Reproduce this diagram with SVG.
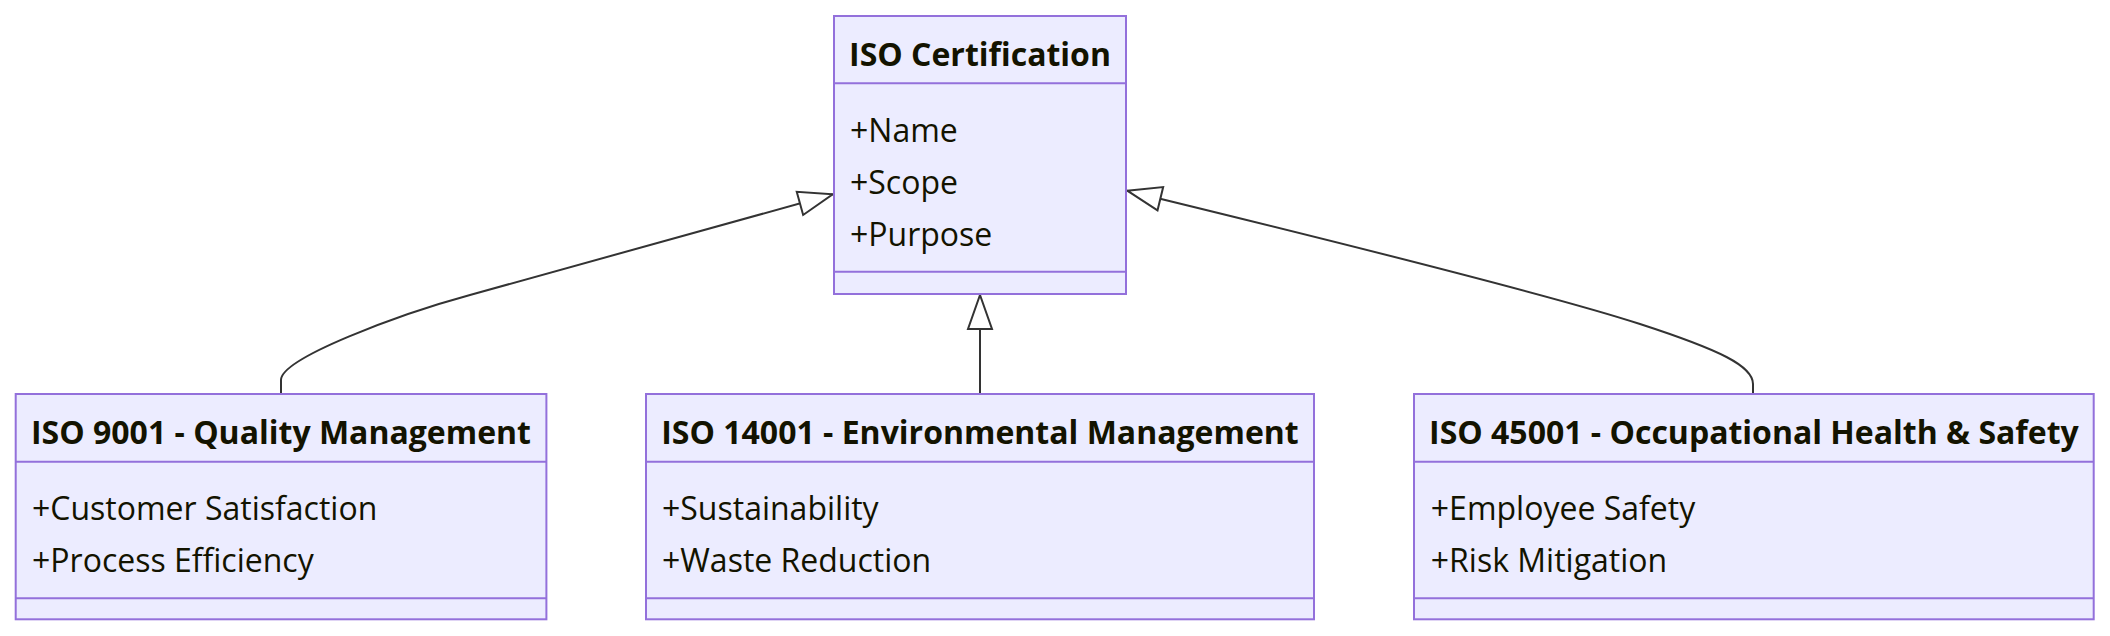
<svg xmlns="http://www.w3.org/2000/svg" width="2110" height="636" viewBox="0 0 2110 636">
<style>
.box{fill:#ECECFF;stroke:#9370DB;stroke-width:2}
.div{stroke:#9370DB;stroke-width:2}
.title{font-family:"Open Sans","Noto Sans",sans-serif;font-weight:bold;font-size:32px;fill:#131300}
.attr{font-family:"Open Sans","Noto Sans",sans-serif;font-size:32px;fill:#131300}
.edge{fill:none;stroke:#333333;stroke-width:2}
</style>
<defs>
<marker id="ext" markerUnits="userSpaceOnUse" viewBox="0 0 20 14" markerWidth="40" markerHeight="28" refX="18" refY="7" orient="auto">
<path d="M1,1 V13 L18,7 Z" fill="#ffffff" stroke="#333333" stroke-width="1"/>
</marker>
</defs>
<rect width="2110" height="636" fill="#ffffff"/>
<g id="connectors">
<path class="edge" d="M281,394 L281,380 C281,358 400,314 470,295 L832.7,194.3" marker-end="url(#ext)"/>
<path class="edge" d="M980,394 L980,295" marker-end="url(#ext)"/>
<path class="edge" d="M1753,394 L1753,384 C1753,366 1720,350 1640,324 C1540,291.5 1260,223 1127.3,190.7" marker-end="url(#ext)"/>
</g>
<g id="iso-certification">
<rect class="box" x="834" y="16" width="292" height="278"/>
<line class="div" x1="834" y1="83.3" x2="1126" y2="83.3"/>
<line class="div" x1="834" y1="271.7" x2="1126" y2="271.7"/>
<text class="title" x="980" y="65.5" text-anchor="middle">ISO Certification</text>
<text class="attr" x="850" y="141.5">+Name</text>
<text class="attr" x="850" y="193.5">+Scope</text>
<text class="attr" x="850" y="245.5">+Purpose</text>
</g>
<g id="iso-9001">
<rect class="box" x="15.7" y="394" width="530.7" height="225.3"/>
<line class="div" x1="15.7" y1="461.7" x2="546.4" y2="461.7"/>
<line class="div" x1="15.7" y1="598.3" x2="546.4" y2="598.3"/>
<text class="title" x="281" y="444" text-anchor="middle">ISO 9001 - Quality Management</text>
<text class="attr" x="32" y="519.8">+Customer Satisfaction</text>
<text class="attr" x="32" y="572.2">+Process Efficiency</text>
</g>
<g id="iso-14001">
<rect class="box" x="646" y="394" width="668" height="225.3"/>
<line class="div" x1="646" y1="461.7" x2="1314" y2="461.7"/>
<line class="div" x1="646" y1="598.3" x2="1314" y2="598.3"/>
<text class="title" x="980" y="444" text-anchor="middle">ISO 14001 - Environmental Management</text>
<text class="attr" x="662" y="519.8">+Sustainability</text>
<text class="attr" x="662" y="572.2">+Waste Reduction</text>
</g>
<g id="iso-45001">
<rect class="box" x="1414" y="394" width="679.7" height="225.3"/>
<line class="div" x1="1414" y1="461.7" x2="2093.7" y2="461.7"/>
<line class="div" x1="1414" y1="598.3" x2="2093.7" y2="598.3"/>
<text class="title" x="1753.9" y="444" text-anchor="middle">ISO 45001 - Occupational Health &amp; Safety</text>
<text class="attr" x="1430.8" y="519.8">+Employee Safety</text>
<text class="attr" x="1430.8" y="572.2">+Risk Mitigation</text>
</g>
</svg>
